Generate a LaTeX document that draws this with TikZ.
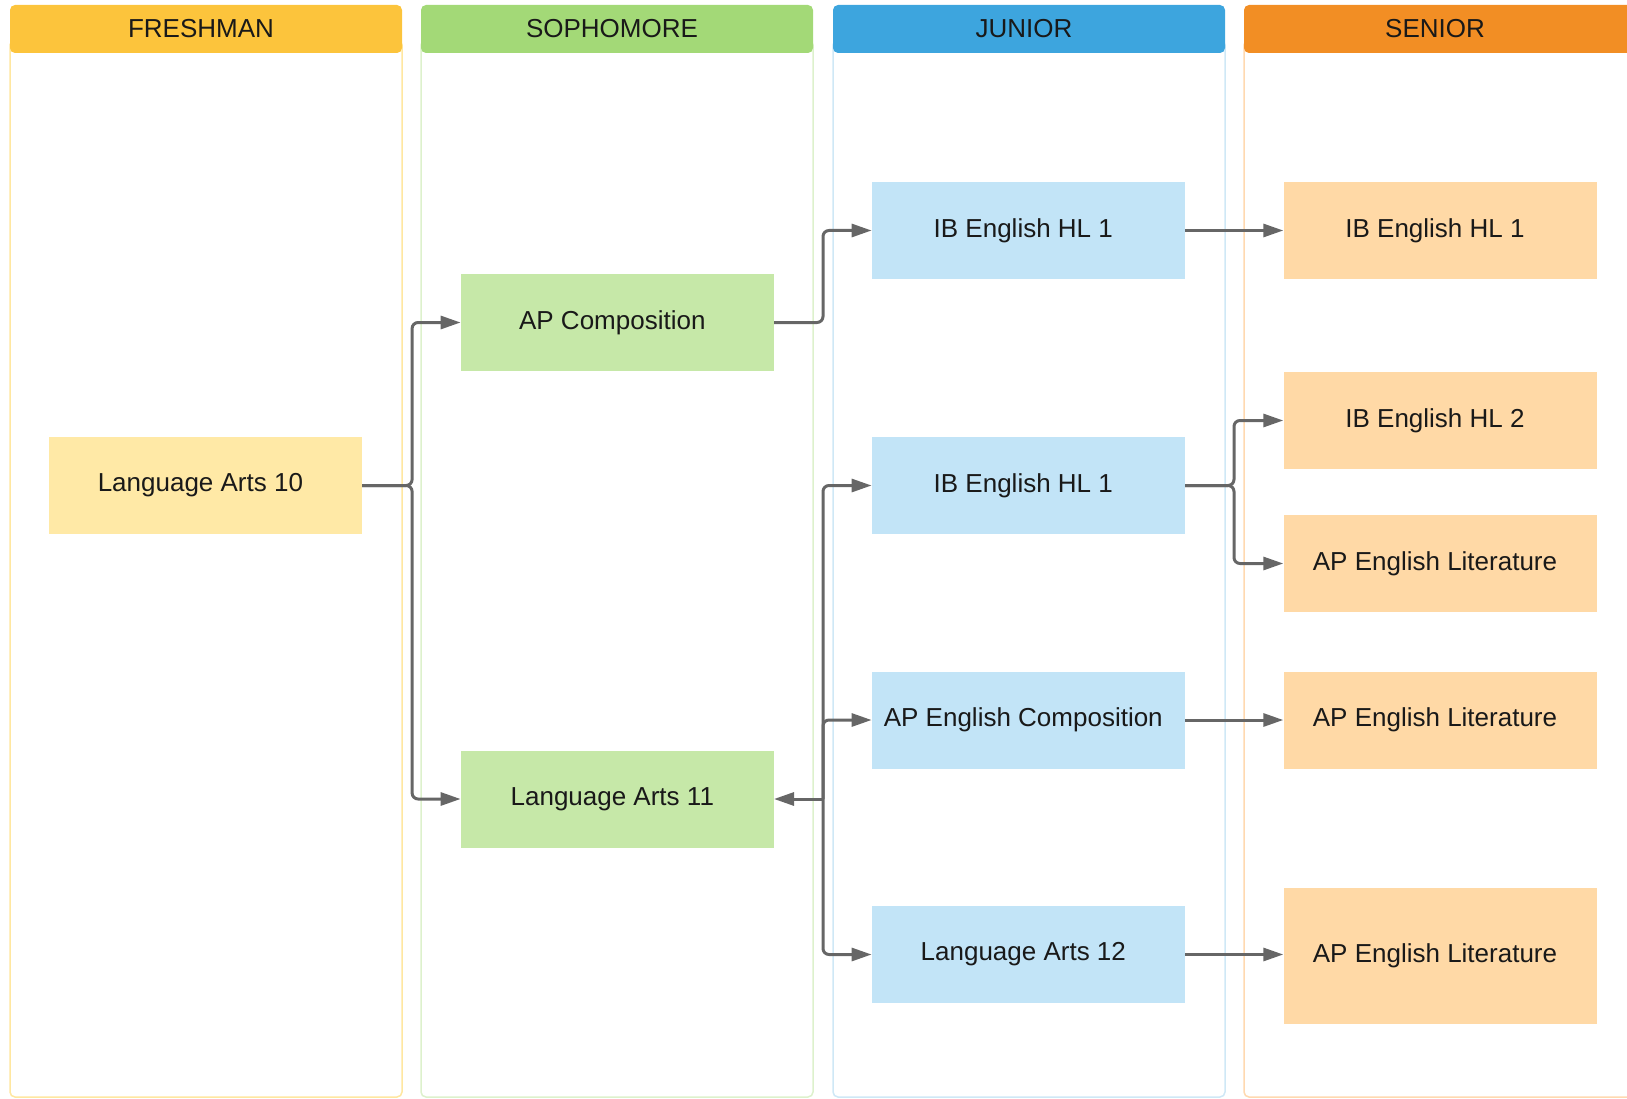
\documentclass[tikz,border=0pt]{standalone}
\usepackage{fontspec}
\setmainfont{Liberation Sans}
\usetikzlibrary{arrows.meta,calc}
\definecolor{fhead}{HTML}{FCC43C}
\definecolor{fnode}{HTML}{FFE9A6}
\definecolor{fline}{HTML}{FFE7A0}
\definecolor{shead}{HTML}{A3D977}
\definecolor{snode}{HTML}{C6E8A8}
\definecolor{sline}{HTML}{DDF1CC}
\definecolor{jhead}{HTML}{3DA5DE}
\definecolor{jnode}{HTML}{C2E4F7}
\definecolor{jline}{HTML}{CFE8F6}
\definecolor{nhead}{HTML}{F28E24}
\definecolor{nnode}{HTML}{FFD9A6}
\definecolor{nline}{HTML}{FFD9B0}
\definecolor{conncol}{HTML}{666666}
\tikzset{
  box/.style={minimum width=313pt,minimum height=97pt,inner sep=0pt,font=\fontsize{26}{30}\selectfont,text=black!90,execute at begin node=\hspace*{-10pt}},
  hdr/.style={font=\fontsize{26}{30}\selectfont,text=black!90,inner sep=0pt,execute at begin node=\hspace*{-10pt}},
  conn/.style={draw=conncol,line width=3pt,rounded corners=6pt,-{Triangle[length=20pt,width=13pt]}}
}
\begin{document}
\begin{tikzpicture}[x=1pt,y=-1pt]
\useasboundingbox (0,0) rectangle (1627,1099);
\begin{scope}
\clip (0,0) rectangle (1627,1099);
% columns
\draw[fline,line width=1.5pt,rounded corners=5pt] (10,40) rectangle (402,1097);
\fill[fhead,rounded corners=5pt] (10,5) rectangle (402,53);
\draw[sline,line width=1.5pt,rounded corners=5pt] (421,40) rectangle (813,1097);
\fill[shead,rounded corners=5pt] (421,5) rectangle (813,53);
\draw[jline,line width=1.5pt,rounded corners=5pt] (833,40) rectangle (1225,1097);
\fill[jhead,rounded corners=5pt] (833,5) rectangle (1225,53);
\draw[nline,line width=1.5pt,rounded corners=5pt] (1244,40) rectangle (1650,1097);
\fill[nhead,rounded corners=5pt] (1244,5) rectangle (1650,53);
\end{scope}
\node[hdr] (hf) at (206,29) {FRESHMAN};
\node[hdr] (hs) at (617,29) {SOPHOMORE};
\node[hdr] (hj) at (1029,29) {JUNIOR};
\node[hdr] (hn) at (1440,29) {SENIOR};
% nodes
\node[box,fill=fnode] (la10) at (205.4,485.5) {Language Arts 10};
\node[box,fill=snode] (apc) at (617.3,322.5) {AP Composition};
\node[box,fill=snode] (la11) at (617.3,799) {Language Arts 11};
\node[box,fill=jnode] (j1) at (1028.3,230.5) {IB English HL 1};
\node[box,fill=jnode] (j2) at (1028.3,485.5) {IB English HL 1};
\node[box,fill=jnode] (j3) at (1028.3,720) {AP English Composition};
\node[box,fill=jnode] (j4) at (1028.3,954.5) {Language Arts 12};
\node[box,fill=nnode] (s1) at (1440,230.5) {IB English HL 1};
\node[box,fill=nnode] (s2) at (1440,420.5) {IB English HL 2};
\node[box,fill=nnode] (s3) at (1440,563.5) {AP English Literature};
\node[box,fill=nnode] (s4) at (1440,720) {AP English Literature};
\node[box,fill=nnode,minimum height=136pt] (s5) at (1440,955.5) {AP English Literature};
% connectors
\draw[conn] (la10.east) -- ++(50,0) |- (apc.west);
\draw[conn] (la10.east) -- ++(50,0) |- (la11.west);
\draw[conn] (apc.east) -- ++(49,0) |- (j1.west);
\coordinate (bus) at ($(la11.east)+(49,0)$);
\draw[conn] (bus) -- (la11.east);
\draw[conn] (bus) |- (j2.west);
\draw[conn] (bus) |- (j3.west);
\draw[conn] (bus) |- (j4.west);
\draw[conn] (j1.east) -- (s1.west);
\draw[conn] (j2.east) -- ++(49,0) |- (s2.west);
\draw[conn] (j2.east) -- ++(49,0) |- (s3.west);
\draw[conn] (j3.east) -- (s4.west);
\draw[conn] (j4.east) -- (j4.east -| s5.west);
\end{tikzpicture}
\end{document}
